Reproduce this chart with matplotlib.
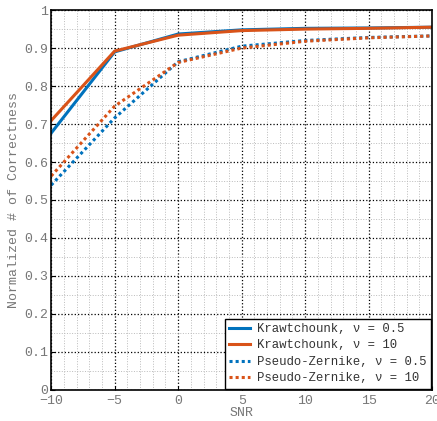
import numpy as np
import matplotlib.pyplot as plt
from matplotlib.ticker import MultipleLocator

plt.rcParams['font.family'] = ['Liberation Mono', 'DejaVu Sans Mono']

snr = [-10, -5, 0, 5, 10, 15, 20]
kraw_05 = [0.676, 0.890, 0.937, 0.948, 0.952, 0.953, 0.955]
kraw_10 = [0.709, 0.892, 0.934, 0.946, 0.950, 0.952, 0.955]
pz_05 = [0.539, 0.716, 0.864, 0.905, 0.920, 0.928, 0.932]
pz_10 = [0.563, 0.747, 0.862, 0.900, 0.918, 0.927, 0.932]
labels = ['Krawtchounk, \u03bd = 0.5', 'Krawtchounk, \u03bd = 10',
          'Pseudo-Zernike, \u03bd = 0.5', 'Pseudo-Zernike, \u03bd = 10']

blue = '#0072BD'
orange = '#D95319'
gray = '#777777'

fig = plt.figure(figsize=(4.37, 4.21), dpi=100)
ax = fig.add_axes([0.117, 0.074, 0.872, 0.902])

ax.plot(snr, kraw_05, color=blue, lw=2.2, label=labels[0])
ax.plot(snr, kraw_10, color=orange, lw=2.2, label=labels[1])
ax.plot(snr, pz_05, color=blue, lw=2.2, ls=(0, (1, 1)), label=labels[2])
ax.plot(snr, pz_10, color=orange, lw=2.2, ls=(0, (1, 1)), label=labels[3])

ax.set_xlim(-10, 20)
ax.set_ylim(0, 1)
ax.xaxis.set_major_locator(MultipleLocator(5))
ax.xaxis.set_minor_locator(MultipleLocator(1))
ax.yaxis.set_minor_locator(MultipleLocator(0.05))
ax.set_yticks(np.arange(0, 1.01, 0.1))
ax.set_yticklabels(['0', '0.1', '0.2', '0.3', '0.4', '0.5', '0.6', '0.7', '0.8', '0.9', '1'])

ax.grid(which='major', color='black', ls=':', lw=0.9)
ax.grid(which='minor', color='#bbbbbb', ls=':', lw=0.7)
ax.set_axisbelow(True)

ax.tick_params(which='both', direction='in', length=0, colors=gray, labelsize=9.5, pad=2)
ax.tick_params(which='major', length=3, color='black')
ax.tick_params(axis='x', pad=4)
for s in ax.spines.values():
    s.set_linewidth(1.2)

ax.set_xlabel('SNR', color=gray, fontsize=9.5, labelpad=0)
ax.set_ylabel('Normalized # of Correctness', color=gray, fontsize=9.5, labelpad=3)

leg = ax.legend(loc='lower right', fontsize=8.8, fancybox=False, framealpha=1,
                edgecolor='black', borderaxespad=0.1, handlelength=1.7,
                handletextpad=0.6, labelspacing=0.37, borderpad=0.35)
leg.get_frame().set_linewidth(1.0)
for t in leg.get_texts():
    t.set_color('#333333')

fig.savefig('out.png', dpi=100)
